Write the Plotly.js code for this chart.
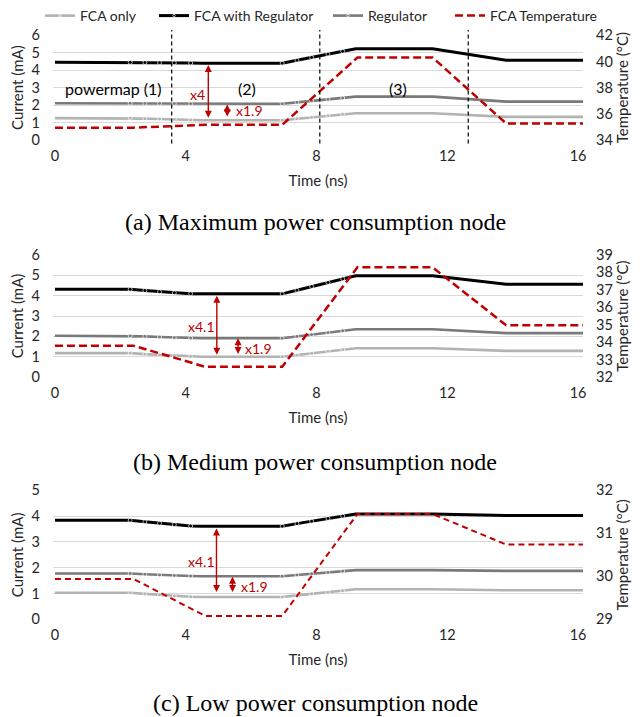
<!DOCTYPE html>
<html><head><meta charset="utf-8">
<script src="https://cdn.plot.ly/plotly-3.0.1.min.js"></script>
<style>html,body{margin:0;padding:0;background:#fff}#chart{width:644px;height:717px}</style>
</head><body><div id="chart"></div>
<script>
// ---- data ----
const time = [0, 2.3, 2.75, 3.2, 3.65, 4.15, 4.5, 6.95, 7.4, 7.85, 8.35, 8.8, 9.2, 11.55, 13.8, 16.15];
const tempTime = [0, 2.4, 4.6, 6.95, 9.25, 11.55, 13.8, 16.15];

const maxFcaOnly = [1.26,1.26,1.23,1.21,1.18,1.15,1.14,1.14,1.22,1.31,1.40,1.48,1.54,1.54,1.33,1.33];
const maxFcaReg  = [4.45,4.45,4.44,4.43,4.42,4.41,4.40,4.40,4.57,4.73,4.92,5.08,5.23,5.23,4.57,4.57];
const maxReg     = [2.11,2.11,2.10,2.10,2.09,2.08,2.08,2.08,2.16,2.24,2.33,2.41,2.49,2.49,2.20,2.20];
const maxTemp    = [34.95,34.95,35.17,35.17,40.3,40.3,35.27,35.27];

const medFcaOnly = [1.18,1.18,1.13,1.09,1.05,1.01,1.00,1.00,1.08,1.17,1.27,1.35,1.42,1.42,1.29,1.29];
const medFcaReg  = [4.31,4.31,4.25,4.19,4.14,4.10,4.09,4.09,4.27,4.45,4.65,4.83,4.98,4.98,4.56,4.56];
const medReg     = [2.03,2.03,2.00,1.97,1.94,1.92,1.91,1.91,2.00,2.09,2.19,2.28,2.35,2.35,2.16,2.16];
const medTemp    = [33.8,33.8,32.59,32.59,38.29,38.29,34.97,34.97];

const lowFcaOnly = [1.03,1.03,0.99,0.95,0.91,0.88,0.87,0.87,0.93,0.99,1.05,1.11,1.17,1.17,1.13,1.13];
const lowFcaReg  = [3.84,3.84,3.78,3.72,3.67,3.62,3.61,3.61,3.71,3.80,3.91,4.00,4.08,4.08,4.02,4.02];
const lowReg     = [1.78,1.78,1.75,1.72,1.70,1.68,1.67,1.67,1.72,1.77,1.82,1.87,1.91,1.91,1.88,1.88];
const lowTemp    = [29.94,29.94,29.08,29.08,31.45,31.45,30.74,30.74];

const seriesNames = ['FCA only', 'FCA with Regulator', 'Regulator', 'FCA Temperature'];
const captions = ['(a) Maximum power consumption node', '(b) Medium power consumption node', '(c) Low power consumption node'];
const xTicks = [0, 4, 8, 12, 16];
const regionBounds = [3.57, 8.1, 12.64];
const regionLabels = ['powermap (1)', '(2)', '(3)'];
const ratioLabels = [['x4', 'x1.9'], ['x4.1', 'x1.9'], ['x4.1', 'x1.9']];

// ---- styling / layout ----
const FONT = 'Lato, "Open Sans", sans-serif';
const RED = '#C00000';
const TXT = '#262626';
const colors = ['#b3b3b3', '#000000', '#7a7a7a'];
const widths = [2.6, 3, 2.6];
const legendIds = ['legend', 'legend2', 'legend3', 'legend4'];
const legendX = [40, 154, 328, 450];

const panels = [
  {x:'x', y:'y', yt:'y4', cur:[maxFcaOnly, maxFcaReg, maxReg], temp:maxTemp,
   dom:[0.8052, 0.9527], cr:[-0.02, 6.02], tr:[33.973, 42.027], tdt:2, dash:'8px,4px', tw:2.5},
  {x:'x2', y:'y2', yt:'y5', cur:[medFcaOnly, medFcaReg, medReg], temp:medTemp,
   dom:[0.4741, 0.6459], cr:[-0.02, 6.02], tr:[31.977, 39.023], tdt:1, dash:'8px,4px', tw:2.5},
  {x:'x3', y:'y3', yt:'y6', cur:[lowFcaOnly, lowFcaReg, lowReg], temp:lowTemp,
   dom:[0.1356, 0.3173], cr:[-0.02, 5.02], tr:[28.988, 32.012], tdt:1, dash:'6px,4px', tw:2}
];

const markSize = time.map(t => ((t > 2.2 && t < 4.3) || (t > 6.9 && t < 9)) ? 4 : 0);

const traces = [];
panels.forEach((p, pi) => {
  p.cur.forEach((vals, si) => {
    traces.push({
      type:'scatter', mode:'lines+markers', x:time, y:vals, name:seriesNames[si],
      xaxis:p.x, yaxis:p.y, showlegend: pi === 0, legend: legendIds[si],
      line:{color:colors[si], width:widths[si]},
      marker:{color:colors[si], size:markSize},
      hoverinfo:'skip'
    });
  });
  traces.push({
    type:'scatter', mode:'lines', x:tempTime, y:p.temp, name:seriesNames[3],
    xaxis:p.x, yaxis:p.yt, showlegend: pi === 0, legend: legendIds[3],
    line:{color:RED, width:p.tw, dash:p.dash}, hoverinfo:'skip'
  });
});

const tickFont = {family:FONT, size:14.5, color:TXT};
const titleFont = {family:FONT, size:15, color:TXT};
const layout = {
  width:644, height:717, margin:{l:0, r:0, t:0, b:0},
  paper_bgcolor:'#ffffff', plot_bgcolor:'rgba(0,0,0,0)',
  font:{family:FONT, size:14, color:TXT},
  showlegend:true,
  shapes:[], annotations:[]
};
legendIds.forEach((id, i) => {
  layout[id] = {orientation:'h', x:legendX[i] / 644, xanchor:'left', y:1 - 15.5 / 717, yanchor:'middle',
    font:{family:FONT, size:14, color:TXT}, itemwidth:30, bgcolor:'rgba(0,0,0,0)', borderwidth:0};
});

panels.forEach((p, pi) => {
  const n = pi === 0 ? '' : String(pi + 1);
  const xk = 'xaxis' + n, yk = 'yaxis' + n, ytk = 'yaxis' + (pi + 4);
  layout[xk] = {
    domain:[0.0823, 0.9053], range:[-0.06, 16.15], anchor:p.y,
    tickvals:xTicks, ticks:'', showgrid:false, zeroline:false, showline:false,
    tickfont:tickFont, ticklabelstandoff:5,
    title:{text:'Time (ns)', font:titleFont, standoff:12}
  };
  layout[yk] = {
    domain:p.dom, range:p.cr, anchor:p.x, dtick:1, tick0:0, ticks:'',
    showgrid:true, gridcolor:'#d9d9d9', gridwidth:1, zeroline:false, showline:false,
    tickfont:tickFont, ticklabelstandoff:12,
    title:{text:'Current (mA)', font:titleFont, standoff:4}
  };
  layout[ytk] = {
    domain:p.dom, range:p.tr, anchor:p.x, overlaying:p.y, side:'right',
    dtick:p.tdt, tick0:0, ticks:'', showgrid:false, zeroline:false, showline:false,
    tickfont:tickFont, ticklabelstandoff:12,
    title:{text:'Temperature (°C)', font:titleFont, standoff:4}
  };
});

// captions
const capY = [221.5, 462, 703];
captions.forEach((c, i) => layout.annotations.push({
  xref:'paper', yref:'paper', x:315 / 644, y:1 - capY[i] / 717, xanchor:'center', yanchor:'middle',
  text:c, showarrow:false,
  font:{family:'"Liberation Serif", "Times New Roman", serif', size:24, color:'#000'}
}));

// region boundaries (panel a)
regionBounds.forEach(b => layout.shapes.push({
  type:'line', xref:'x', yref:'paper', x0:b, x1:b, y0:0.801, y1:0.9596,
  line:{color:'#000', width:1.2, dash:'4px,3px'}
}));
const regionX = [1.78, 5.88, 10.5];
regionLabels.forEach((t, i) => layout.annotations.push({
  xref:'x', yref:'y', x:regionX[i], y:2.97, text:t, showarrow:false,
  font:{family:FONT, size:16, color:'#000'}
}));

// ratio arrows and labels
const arrowSpec = [
  {bx:4.69, bt:4.29, bb:1.2, sx:5.27, st:2.04, sb:1.26, lbx:4.36, lby:2.59, lsx:5.95, lsy:1.68},
  {bx:4.95, bt:4.0, bb:1.03, sx:5.6, st:1.91, sb:1.06, lbx:4.49, lby:2.49, lsx:6.24, lsy:1.42},
  {bx:4.94, bt:3.52, bb:1.0, sx:5.43, st:1.65, sb:1.0, lbx:4.49, lby:2.25, lsx:6.09, lsy:1.29}
];
panels.forEach((p, pi) => {
  const a = arrowSpec[pi];
  [[a.bx, a.bt, a.bb], [a.sx, a.st, a.sb]].forEach(([x, t, b]) => layout.annotations.push({
    xref:p.x, yref:p.y, axref:p.x, ayref:p.y, x:x, y:t, ax:x, ay:b, text:'',
    showarrow:true, arrowside:'end+start', arrowhead:2, arrowsize:1, arrowwidth:1.4,
    arrowcolor:RED, standoff:0, startstandoff:0
  }));
  layout.annotations.push({xref:p.x, yref:p.y, x:a.lbx, y:a.lby, text:ratioLabels[pi][0],
    showarrow:false, font:{family:FONT, size:14, color:RED}});
  layout.annotations.push({xref:p.x, yref:p.y, x:a.lsx, y:a.lsy, text:ratioLabels[pi][1],
    showarrow:false, font:{family:FONT, size:14, color:RED}});
});

Plotly.newPlot('chart', traces, layout, {staticPlot:true, displayModeBar:false});
</script>
</body></html>
